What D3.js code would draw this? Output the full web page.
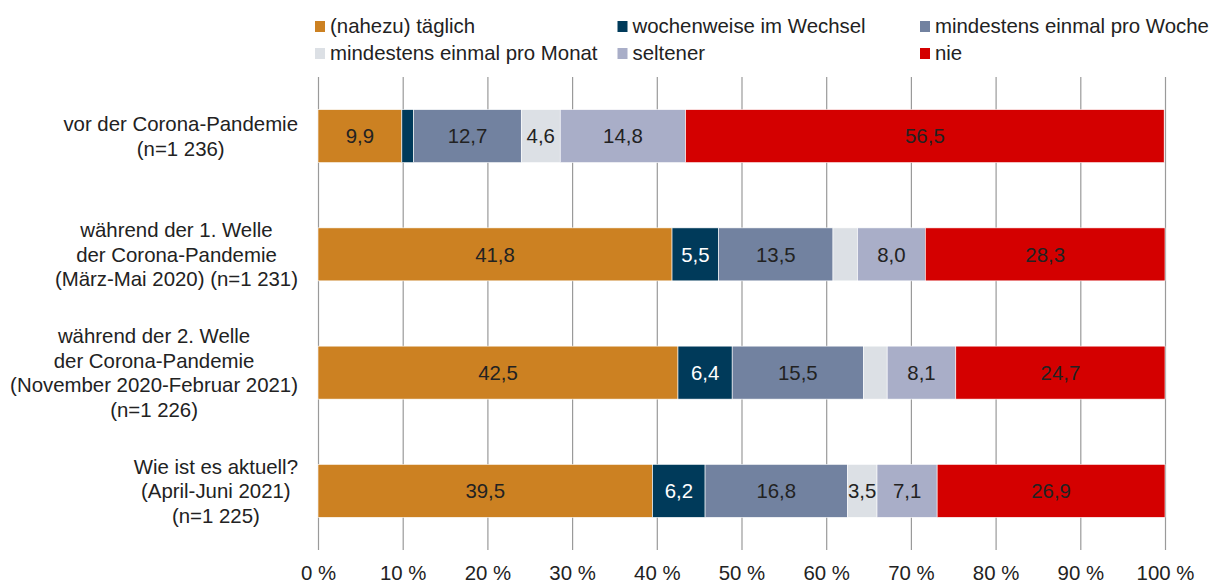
<!DOCTYPE html>
<html lang="de">
<head>
<meta charset="utf-8">
<script src="https://cdn.jsdelivr.net/npm/d3@7"></script>
<style>
  html, body { margin: 0; padding: 0; background: #fff; }
  svg { display: block; font-family: "Liberation Sans", Arial, sans-serif; }
</style>
</head>
<body>
<div class="chart"></div>
<script>
// categories (one array of lines per bar)
const categories = [
  ["vor der Corona-Pandemie", "(n=1 236)"],
  ["während der 1. Welle", "der Corona-Pandemie", "(März-Mai 2020) (n=1 231)"],
  ["während der 2. Welle", "der Corona-Pandemie", "(November 2020-Februar 2021)", "(n=1 226)"],
  ["Wie ist es aktuell?", "(April-Juni 2021)", "(n=1 225)"],
];
const seriesNames = [
  "(nahezu) täglich",
  "wochenweise im Wechsel",
  "mindestens einmal pro Woche",
  "mindestens einmal pro Monat",
  "seltener",
  "nie",
];
const seriesColors = ["#cc8122", "#003a5a", "#7282a0", "#dce0e5", "#a9aec8", "#d40000"];

// values per series, in category order
const taeglich = [9.9, 41.8, 42.5, 39.5];
const wochenweise = [1.4, 5.5, 6.4, 6.2];
const proWoche = [12.7, 13.5, 15.5, 16.8];
const proMonat = [4.6, 2.9, 2.8, 3.5];
const seltener = [14.8, 8.0, 8.1, 7.1];
const nie = [56.5, 28.3, 24.7, 26.9];

const xTicks = [0, 10, 20, 30, 40, 50, 60, 70, 80, 90, 100];

const width = 1212;
const height = 586;
const fontSize = 20.4;

function main() {
  const values = [taeglich, wochenweise, proWoche, proMonat, seltener, nie];
  const keys = seriesNames;
  const rows = categories.map((lines, i) => {
    const row = { id: i, lines };
    keys.forEach((k, j) => (row[k] = values[j][i]));
    return row;
  });
  const stacked = d3.stack().keys(keys)(rows);

  const x = d3.scaleLinear().domain([0, 100]).range([318, 1165]);
  const y = d3
    .scaleBand()
    .domain(rows.map((d) => d.id))
    .range([77, 550])
    .paddingInner(0.552)
    .paddingOuter(0.276);
  const color = d3.scaleOrdinal().domain(keys).range(seriesColors);

  const svg = d3
    .select(".chart")
    .append("svg")
    .attr("width", width)
    .attr("height", height);

  // axis + vertical gridlines (drawn first so bars sit on top)
  const axis = svg
    .append("g")
    .attr("transform", `translate(0,550)`)
    .call(
      d3
        .axisBottom(x)
        .tickValues(xTicks)
        .tickFormat((d) => `${d} %`)
        .tickSizeInner(-473)
        .tickSizeOuter(0)
        .tickPadding(16),
    );
  axis.select(".domain").remove();
  axis.selectAll(".tick line").attr("stroke", "#9a9a9a").attr("stroke-width", 1.2);
  axis
    .selectAll(".tick text")
    .attr("font-size", fontSize)
    .attr("font-family", "Liberation Sans, Arial, sans-serif")
    .attr("fill", "#222");

  // bars
  const layers = svg
    .append("g")
    .selectAll("g")
    .data(stacked)
    .join("g")
    .attr("fill", (d) => color(d.key));

  layers
    .selectAll("rect")
    .data((d) => d)
    .join("rect")
    .attr("x", (d) => x(d[0]))
    .attr("y", (d) => y(d.data.id))
    .attr("width", (d) => x(d[1]) - x(d[0]))
    .attr("height", y.bandwidth())
    .attr("stroke", "#fff")
    .attr("stroke-width", 0.6);

  // value labels
  const fmt = (v) => d3.format(".1f")(v).replace(".", ",");
  layers
    .selectAll("text")
    .data((d) => d.map((s) => ({ s, key: d.key })))
    .join("text")
    .filter((d) => d.s[1] - d.s[0] >= 3)
    .attr("x", (d) => (x(d.s[0]) + x(d.s[1])) / 2)
    .attr("y", (d) => y(d.s.data.id) + y.bandwidth() / 2)
    .attr("dy", "0.36em")
    .attr("text-anchor", "middle")
    .attr("font-size", fontSize)
    .attr("fill", (d) => (d.key === "wochenweise im Wechsel" ? "#fff" : "#222"))
    .text((d) => fmt(d.s[1] - d.s[0]));

  // category labels: each block centred on itself, right edge at 298
  const lineH = 24.5;
  const catG = svg
    .append("g")
    .selectAll("g")
    .data(rows)
    .join("g")
    .attr("font-size", fontSize)
    .attr("fill", "#222");
  catG.each(function (d) {
    const g = d3.select(this);
    const cy = y(d.id) + y.bandwidth() / 2;
    const texts = g
      .selectAll("text")
      .data(d.lines)
      .join("text")
      .attr("text-anchor", "middle")
      .attr("y", (l, i) => cy + (i - (d.lines.length - 1) / 2) * lineH)
      .attr("dy", "0.36em")
      .text((l) => l);
    const maxW = d3.max(texts.nodes(), (n) => n.getComputedTextLength());
    texts.attr("x", 298 - maxW / 2);
  });

  // legend, 3 columns x 2 rows
  const legend = svg
    .append("g")
    .selectAll("g")
    .data(keys)
    .join("g")
    .attr("transform", (d, i) => `translate(${315 + (i % 3) * 302.5},${i < 3 ? 33 : 60})`);
  legend
    .append("rect")
    .attr("x", 0)
    .attr("y", -12)
    .attr("width", 10)
    .attr("height", 11)
    .attr("fill", (d) => color(d));
  legend
    .append("text")
    .attr("x", 15)
    .attr("font-size", fontSize)
    .attr("fill", "#222")
    .text((d) => d);
}

main();
</script>
</body>
</html>
